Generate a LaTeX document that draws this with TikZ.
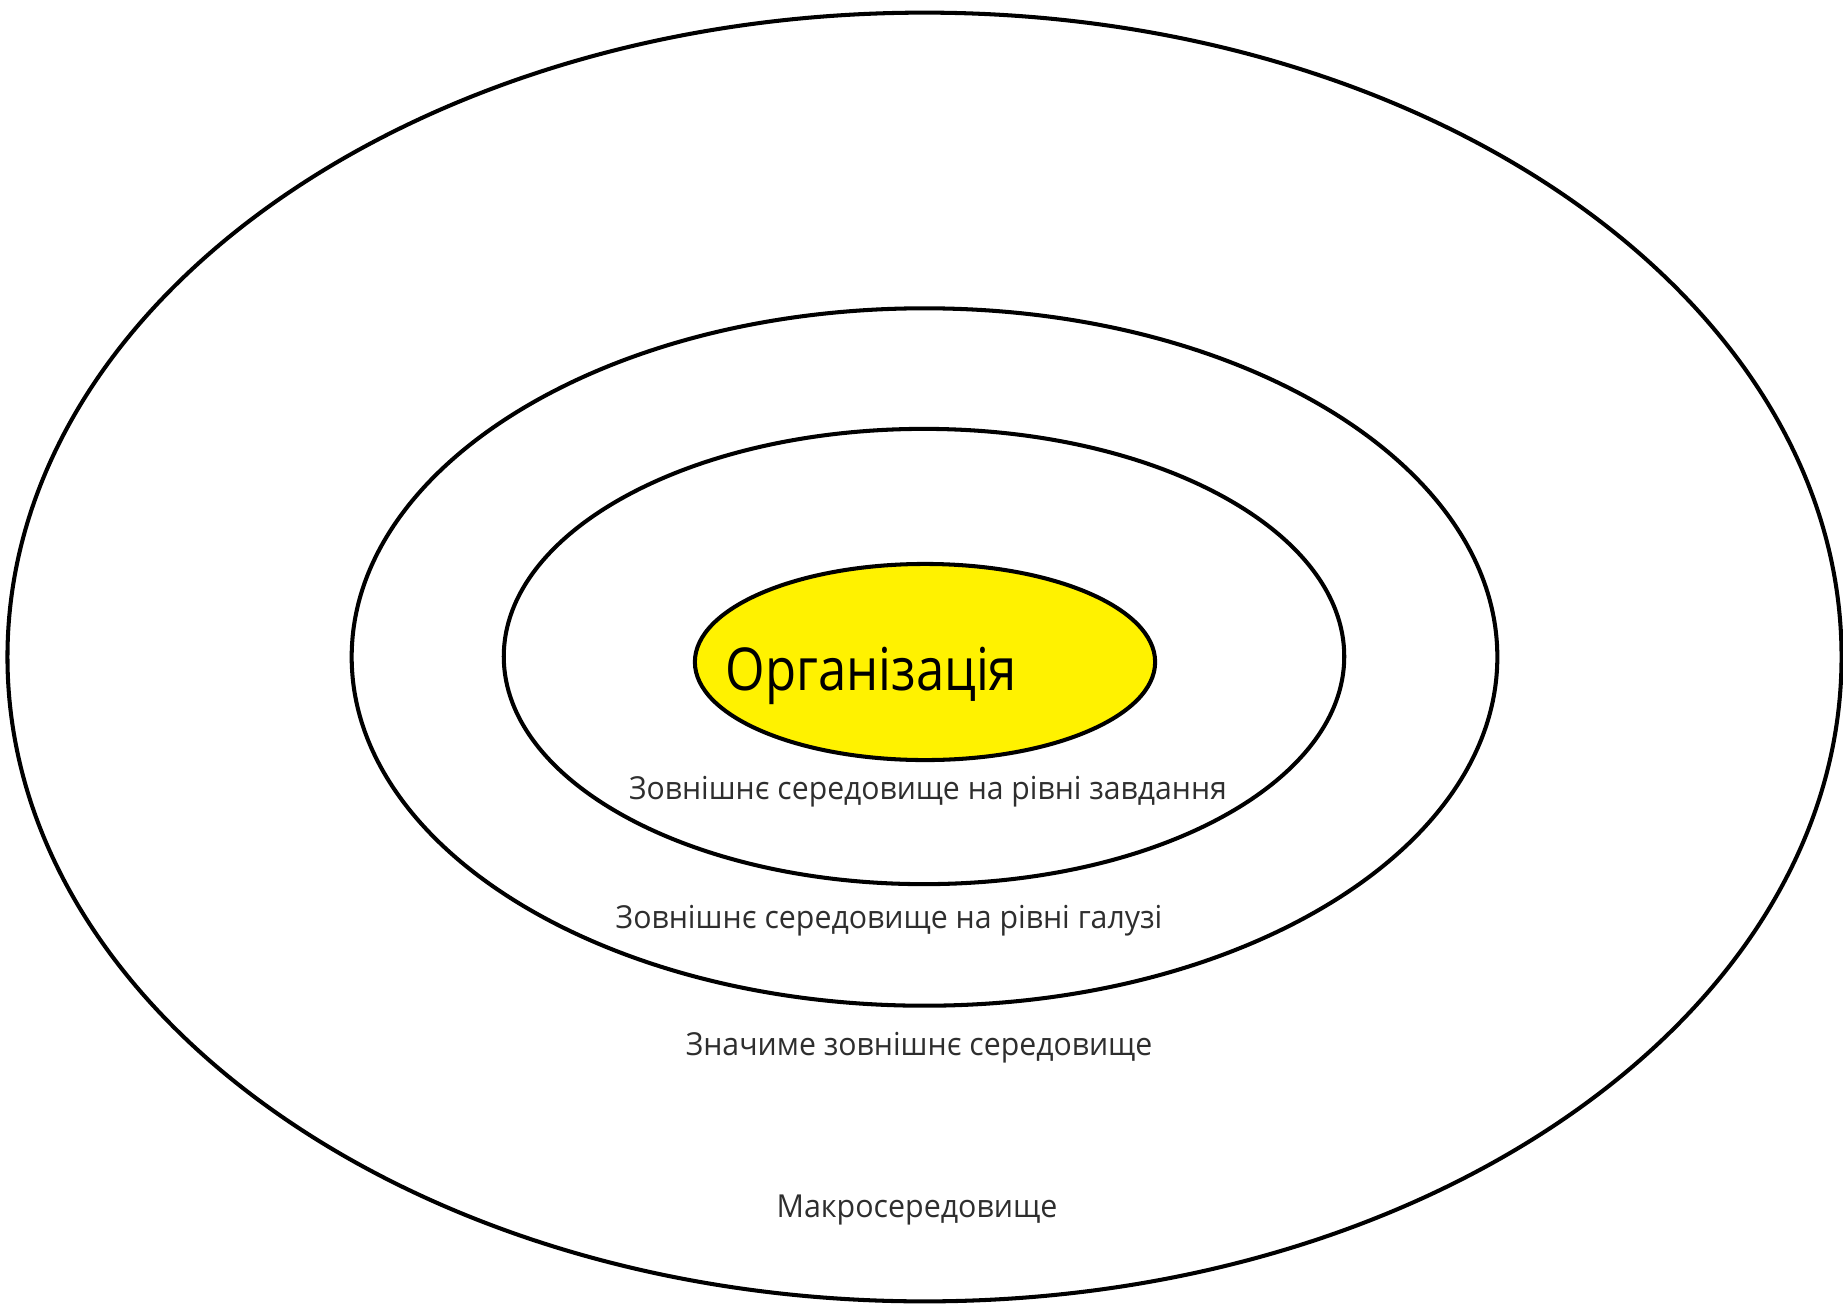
\documentclass[tikz,border=0pt]{standalone}
\usepackage{graphicx}
\usepackage{fontspec}
\setmainfont{Open Sans}
\usetikzlibrary{shapes.geometric}
\newcommand{\narrowtext}[2]{\scalebox{#1}[1]{#2}}
\begin{document}
\begin{tikzpicture}[x=0.01cm,y=-0.01cm,
  ring/.style={draw=black,line width=1.15pt,ellipse,inner sep=0pt},
  lbl/.style={anchor=base,text=black!82,inner sep=0pt,font=\fontsize{9}{11}\selectfont}]
  \useasboundingbox (0,0) rectangle (1843,1306);
  % nested environment levels
  \node[ring,minimum width=18.33cm,minimum height=12.88cm] (macro) at (924.5,657) {};
  \node[ring,minimum width=11.45cm,minimum height=6.97cm] (meaning) at (924.5,657) {};
  \node[ring,minimum width=8.40cm,minimum height=4.55cm] (industry) at (924,656.5) {};
  \node[ring,fill=yellow,minimum width=4.60cm,minimum height=1.96cm] (org) at (925,662) {};
  % labels
  \node[anchor=base west,inner sep=0pt,font=\fontsize{16.8}{20}\selectfont] (orgtext) at (725,690) {\narrowtext{0.86}{Організація}};
  \node[lbl] (task) at (928,799) {\narrowtext{0.953}{Зовнішнє середовище на рівні завдання}};
  \node[lbl] (branch) at (889,928) {\narrowtext{0.957}{Зовнішнє середовище на рівні галузі}};
  \node[lbl] (sig) at (919,1055) {\narrowtext{0.955}{Значиме зовнішнє середовище}};
  \node[lbl] (macrotext) at (917,1217) {\narrowtext{0.96}{Макросередовище}};
\end{tikzpicture}
\end{document}
